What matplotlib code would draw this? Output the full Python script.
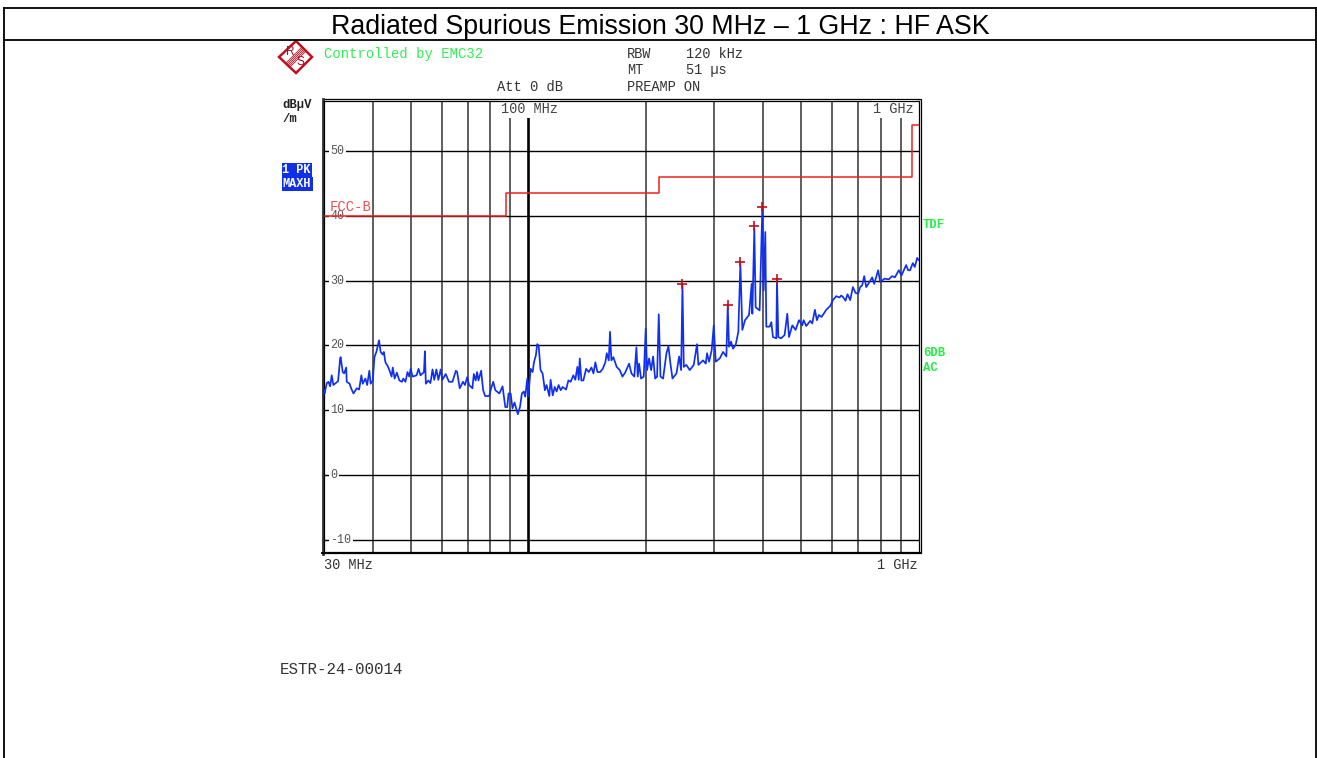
import matplotlib
matplotlib.use('Agg')
import matplotlib.pyplot as plt
from matplotlib.patches import Polygon, Rectangle
from matplotlib.transforms import blended_transform_factory

MONO = 'Liberation Mono'

# peak trace, MHz / dBuV/m
trace_f = [
    30.0, 30.1, 30.5, 30.8, 31.1, 31.4, 31.7, 32.6, 33.0, 33.1, 33.5, 33.8, 34.2, 34.3, 34.9, 35.2,
    35.7, 36.4, 36.9, 37.4, 37.7, 38.3, 38.7, 39.2, 39.5, 40.0, 40.4, 40.9, 41.5, 41.9, 42.4, 42.7,
    43.1, 43.8, 44.7, 45.0, 45.5, 46.1, 46.8, 47.5, 47.9, 48.5, 49.1, 49.6, 50.0, 50.6, 51.8, 52.4,
    53.0, 54.1, 54.4, 54.7, 55.5, 56.2, 56.9, 57.5, 58.2, 58.9, 59.7, 60.3, 61.5, 62.7, 64.0, 65.3,
    65.8, 66.8, 68.1, 68.9, 69.8, 70.6, 72.0, 72.6, 73.4, 74.0, 74.6, 75.8, 76.7, 77.6, 79.5, 80.4,
    81.4, 82.4, 84.4, 86.0, 87.4, 88.4, 89.1, 90.2, 91.2, 92.3, 94.1, 95.3, 96.4, 97.5, 98.3, 99.5,
    100.1, 101.5, 102.7, 103.5, 104.7, 105.5, 106.4, 107.6, 108.9, 110.4, 111.5, 113.3, 114.2, 115.6,
    117.0, 118.3, 119.7, 121.2, 122.6, 125.1, 126.8, 128.5, 130.6, 132.1, 133.7, 134.8, 135.6, 136.9,
    138.5, 140.8, 143.0, 145.3, 147.0, 148.7, 150.5, 152.9, 155.3, 157.7, 159.0, 160.9, 162.1, 163.4,
    165.3, 168.6, 171.7, 174.4, 177.2, 181.4, 183.9, 187.1, 189.4, 190.9, 192.4, 194.7, 197.8, 200.1,
    201.7, 204.1, 206.6, 209.0, 211.5, 214.0, 216.1, 218.3, 221.7, 226.1, 228.8, 231.5, 234.3, 239.9,
    243.7, 246.6, 248.5, 250.5, 254.3, 259.4, 265.6, 270.8, 273.0, 280.6, 285.1, 287.3, 290.8, 295.3,
    298.9, 302.4, 309.6, 315.8, 322.0, 324.6, 327.1, 331.0, 334.9, 340.2, 345.5, 349.7, 353.8, 359.4,
    368.0, 373.8, 375.3, 379.7, 382.7, 391.8, 398.0, 401.2, 405.1, 407.5, 415.6, 419.7, 423.8, 432.3,
    434.0, 437.4, 444.3, 453.9, 461.2, 465.8, 475.0, 484.4, 494.0, 503.8, 507.8, 515.8, 528.1, 534.4,
    542.8, 549.3, 555.8, 564.6, 580.4, 594.2, 603.6, 615.5, 627.7, 633.9, 640.2, 650.3, 658.0, 668.4,
    679.1, 689.8, 700.7, 709.0, 717.5, 726.0, 734.6, 749.1, 761.0, 770.0, 788.3, 797.6, 818.2, 839.4,
    856.0, 869.7, 890.4, 904.5, 929.7, 940.7, 951.8, 966.9, 978.4, 992.0, 1000.0,
]
trace_db = [
    13.1, 12.6, 14.2, 14.4, 13.7, 15.4, 13.9, 14.5, 18.0, 18.2, 15.9, 15.7, 16.6, 14.4, 14.1, 13.4,
    12.6, 13.4, 13.2, 15.4, 14.1, 14.9, 13.9, 16.1, 14.1, 14.6, 18.2, 19.1, 20.8, 19.0, 18.6, 19.0,
    17.4, 16.7, 15.2, 16.6, 14.9, 15.8, 14.6, 14.4, 14.9, 14.4, 15.9, 15.2, 16.4, 15.2, 15.4, 16.4,
    15.4, 15.9, 19.1, 14.1, 14.6, 14.2, 16.3, 14.7, 16.3, 14.7, 16.3, 14.7, 15.6, 14.4, 14.4, 16.1,
    15.9, 13.4, 14.4, 13.9, 15.1, 13.9, 13.4, 15.6, 14.6, 15.9, 14.6, 16.1, 13.1, 12.2, 12.2, 13.4,
    14.4, 13.1, 12.6, 13.7, 10.5, 10.5, 12.6, 12.6, 10.3, 11.2, 9.4, 10.5, 12.6, 12.9, 12.1, 14.9,
    12.1, 16.4, 15.9, 17.4, 18.5, 20.2, 20.0, 16.2, 15.7, 13.1, 13.9, 12.2, 14.7, 12.3,
    13.6, 12.9, 13.9, 13.1, 13.6, 13.2, 14.6, 14.4, 15.4, 14.7, 16.7, 14.7, 18.0, 14.6,
    14.6, 16.4, 15.9, 16.6, 15.7, 17.4, 15.9, 15.9, 16.4, 17.4, 18.8, 17.7, 22.1, 17.7,
    18.2, 16.7, 16.2, 15.2, 15.8, 17.2, 15.7, 15.2, 19.7, 15.2, 17.2, 14.9, 15.2, 22.6,
    16.2, 18.0, 16.2, 18.3, 14.9, 15.2, 24.8, 15.2, 14.9, 18.8, 19.9, 17.2, 14.9, 15.7,
    18.3, 16.2, 29.3, 16.7, 17.0, 16.2, 17.0, 20.2, 17.0, 17.7, 17.2, 18.8, 17.5, 19.3,
    23.1, 17.5, 18.0, 19.0, 18.3, 26.2, 19.8, 20.6, 19.5, 20.1, 22.1, 32.6, 22.4, 23.9,
    24.7, 29.5, 24.9, 38.0, 25.9, 25.4, 41.1, 28.5, 37.5, 22.9, 22.9, 23.6, 21.3, 21.1,
    30.1, 21.3, 21.1, 21.6, 24.9, 21.3, 23.1, 22.4, 23.9, 23.1, 23.9, 23.0, 23.8, 23.4,
    25.5, 23.9, 24.7, 24.4, 25.5, 26.1, 27.0, 27.6, 27.4, 27.7, 27.5, 26.9, 27.9, 27.0,
    29.0, 28.1, 28.0, 29.0, 29.3, 30.7, 29.0, 29.8, 30.5, 29.5, 31.6, 29.8, 30.3, 30.2,
    30.7, 30.5, 31.6, 30.8, 32.4, 31.6, 31.6, 32.7, 32.1, 33.5, 33.2,
]

# FCC class B limit line
limit_f = [30, 88, 88, 216, 216, 960, 960, 1000]
limit_db = [40, 40, 43.5, 43.5, 46, 46, 54, 54]

# peak markers
marker_f = [248.5, 324.6, 349.7, 379.7, 398.0, 434.0]
marker_db = [29.5, 26.3, 32.8, 38.4, 41.3, 30.2]

y_ticks = [50, 40, 30, 20, 10, 0, -10]
grid_f = [40, 50, 60, 70, 80, 90, 200, 300, 400, 500, 600, 700, 800, 900]

fig = plt.figure(figsize=(13.17, 7.58), dpi=100)

# whole page in pixel coords, for the header and the analyzer annotations
page = fig.add_axes([0, 0, 1, 1], zorder=0)
page.set_xlim(0, 1317)
page.set_ylim(758, 0)
page.axis('off')

ax = fig.add_axes([324 / 1317, 1 - 552 / 758, 594.5 / 1317, 451 / 758], zorder=1)
ax.set_xscale('log')
ax.set_xlim(30, 1000)
ax.set_ylim(-11.85, 57.7)
ax.set_xticks([])
ax.set_yticks([])
ax.minorticks_off()
for s in ax.spines.values():
    s.set_linewidth(0.9)

for f in grid_f:
    ax.axvline(f, color='#333333', lw=1.1, zorder=1)
ax.axvline(100, color='black', lw=1.9, zorder=1)
for v in y_ticks:
    ax.axhline(v, color='black', lw=1.0, zorder=1)

# tick labels sit on the grid with a white box round them
tr = blended_transform_factory(ax.transAxes, ax.transData)
for v in y_ticks:
    ax.text(0.0105, v, str(v), transform=tr, family=MONO, fontsize=8.4, color='#555555',
            ha='left', va='center', zorder=2,
            bbox=dict(fc='white', ec='none', pad=1.2))
ax.text(100.6, 57.6, '100 MHz', family=MONO, fontsize=9.8, color='#444444', ha='center', va='top', zorder=2,
        bbox=dict(fc='white', ec='none', pad=1.5))
ax.text(971, 57.6, '1 GHz', family=MONO, fontsize=9.8, color='#444444', ha='right', va='top', zorder=2,
        bbox=dict(fc='white', ec='none', pad=1.5))

ax.plot(limit_f, limit_db, color='#f02020', lw=1.1, zorder=3)
ax.text(0.0095, 41.3, 'FCC-B', transform=tr, family=MONO, fontsize=10, color='#f05050', va='center', zorder=4)
ax.plot(trace_f, trace_db, color='#1030f0', lw=1.25, zorder=4)
ax.plot(marker_f, marker_db, '+', color='#c01020', ms=7.5, mew=1.2, zorder=5)

# outer frame round the grid
page.add_patch(Rectangle((322.5, 99), 598, 454, fc='none', ec='black', lw=0.9))
page.plot([323, 323], [99, 554], color='#333333', lw=2.0)
page.plot([322, 921], [553, 553], color='black', lw=1.4)

# report table lines
page.plot([4, 4], [758, 8], color='black', lw=1.3)
page.plot([1316, 1316], [758, 8], color='black', lw=1.3)
page.plot([4, 1316], [8, 8], color='black', lw=1.3)
page.plot([4, 1316], [40, 40], color='black', lw=1.3)
page.text(660, 26.5, 'Radiated Spurious Emission 30 MHz \u2013 1 GHz : HF ASK', family='Liberation Sans',
          fontsize=19.3, ha='center', va='center', color='black')

# R&S logo
page.add_patch(Polygon([(279, 57), (296, 41), (312, 57), (296, 73)], closed=True, fc='white', ec='#c01020', lw=1.8))
for off in [-2.0, -1.0, 0, 1.0, 2.0]:
    page.plot([288 + off, 304 + off], [65 + off, 49 + off], color='#c01020', lw=0.6)
page.text(290.5, 52, 'R', family='Liberation Sans', fontsize=8.5, color='#a01020', ha='center', va='center')
page.text(300.5, 62, 'S', family='Liberation Sans', fontsize=8.5, color='#a01020', ha='center', va='center')

page.text(324, 54, 'Controlled by EMC32', family=MONO, fontsize=10, color='#33ee55', va='center')
page.text(497, 87, 'Att 0 dB', family=MONO, fontsize=9.9, color='#333333', va='center')
page.text(627, 54, 'RBW', family=MONO, fontsize=9.8, color='#333333', va='center')
page.text(686, 54, '120 kHz', family=MONO, fontsize=9.8, color='#333333', va='center')
page.text(627, 70, 'MT', family=MONO, fontsize=9.8, color='#333333', va='center')
page.text(686, 70, '51 \u00b5s', family=MONO, fontsize=9.8, color='#333333', va='center')
page.text(627, 87, 'PREAMP ON', family=MONO, fontsize=9.8, color='#333333', va='center')

page.text(282, 105, 'dB\u00b5V', family=MONO, fontsize=8.8, weight='bold', color='#222222', va='center')
page.text(282, 119, '/m', family=MONO, fontsize=8.8, weight='bold', color='#222222', va='center')

page.add_patch(Rectangle((282, 163), 30, 14, fc='#1030e8', ec='none'))
page.add_patch(Rectangle((282, 177), 31, 14, fc='#1030e8', ec='none'))
page.text(282, 170, '1 PK', family=MONO, fontsize=8.6, weight='bold', color='white', va='center')
page.text(282, 184, 'MAXH', family=MONO, fontsize=8.6, weight='bold', color='white', va='center')

page.text(923, 225, 'TDF', family=MONO, fontsize=8.8, weight='bold', color='#22ee44', va='center')
page.text(923, 353, '6DB', family=MONO, fontsize=8.8, weight='bold', color='#22ee44', va='center')
page.text(923, 368, 'AC', family=MONO, fontsize=8.8, weight='bold', color='#22ee44', va='center')

page.text(324, 565, '30 MHz', family=MONO, fontsize=9.8, color='#333333', va='center')
page.text(918, 565, '1 GHz', family=MONO, fontsize=9.8, color='#333333', va='center', ha='right')
page.text(280, 670, 'ESTR-24-00014', family=MONO, fontsize=11.3, color='#333333', va='center')

fig.savefig('out.png', dpi=100)
